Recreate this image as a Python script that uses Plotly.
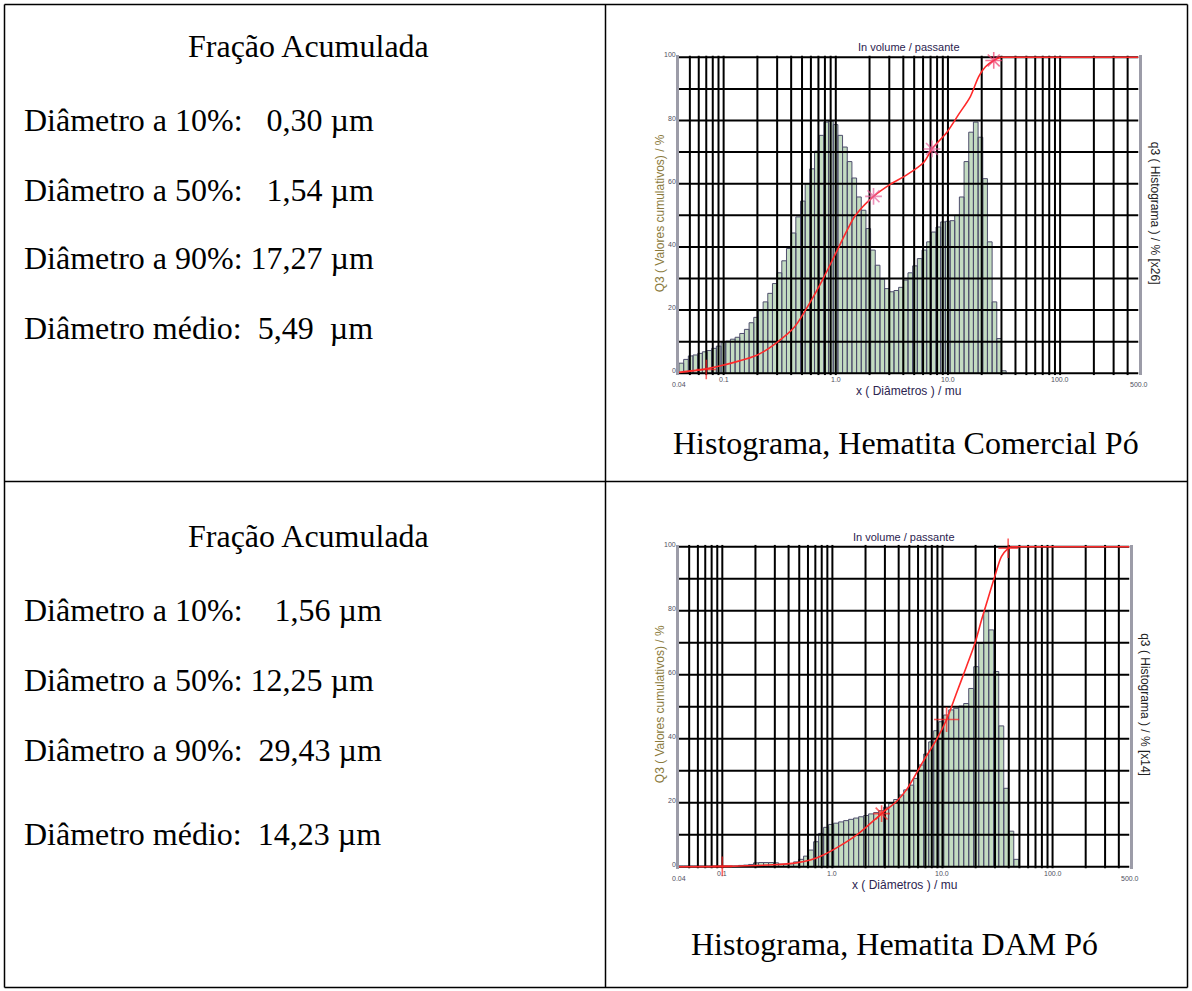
import math
import plotly.graph_objects as go

W, H = 1192, 991

# ---------------------------------------------------------------- data
# Size classes of the granulometer: log-uniform classes starting at 0.04 µm
CLASS_START = 0.04
CLASSES_PER_DECADE_1 = 24
CLASSES_PER_DECADE_2 = 22

# q3 histogram heights (drawn on the 0-100 scale of the left axis)
HIST_1 = [3.2, 4.4, 5.5, 5.8, 6.3, 6.8, 7.2, 7.9, 8.6, 9.7,
          10.2, 10.8, 11.4, 12.6, 13.9, 16.0, 17.7, 19.8, 22.6, 25.3,
          28.4, 31.8, 35.6, 39.5, 44.4, 49.5, 54.5, 60.0, 64.7, 70.3,
          75.3, 79.5, 79.8, 78.7, 75.3, 71.6, 67.0, 61.8, 55.8, 51.6,
          45.8, 39.0, 34.2, 29.8, 26.8, 25.8, 26.2, 27.2, 29.5, 31.8,
          34.0, 36.3, 39.0, 41.6, 44.7, 46.3, 47.9, 48.1, 48.3, 50.0,
          55.8, 67.0, 76.3, 79.5, 74.7, 61.6, 41.6, 22.6, 11.0, 0.8]

HIST_2 = [0.2, 0.2, 0.2, 0.2, 0.2, 0.2, 0.2, 0.2, 0.2, 0.2,
          0.2, 0.2, 0.4, 0.5, 0.7, 1.2, 1.3, 1.3, 1.3, 1.2,
          0.8, 0.8, 0.9, 1.5, 2.3, 3.3, 5.2, 7.8, 10.4, 12.3,
          13.2, 13.6, 14.0, 14.4, 14.8, 15.2, 15.6, 16.0, 16.5, 16.9,
          17.5, 18.6, 19.8, 21.0, 22.4, 24.0, 25.5, 27.6, 31.8, 35.2,
          39.0, 42.5, 45.3, 47.4, 49.0, 49.5, 50.2, 51.0, 55.7, 62.5,
          69.8, 79.7, 74.0, 61.0, 44.0, 24.5, 11.1, 2.3]

# Q3 cumulative curves (diameter µm, % passing)
CUM_D_1 = [0.04, 0.07, 0.1, 0.2, 0.3, 0.43, 0.58, 0.76, 1.0, 1.25, 1.5,
           2.17, 3.06, 4.3, 6.1, 7.2, 9.8, 12.5, 15.8, 18.8, 21.6, 25.6, 29.4]
CUM_Q_1 = [0.3, 1.4, 2.6, 5.8, 9.8, 14.7, 22.0, 29.5, 38.0, 45.0, 50.0,
           56.0, 59.8, 62.8, 66.8, 71.0, 76.3, 82.0, 87.5, 93.9, 97.0, 99.0, 100.0]
CUM_D_2 = [0.04, 0.1, 0.29, 0.47, 0.63, 0.82, 1.17, 1.75, 2.8, 3.8, 4.7,
           6.7, 8.8, 10.9, 13.4, 16.5, 19.8, 22.6, 25.0, 29.8, 34.3, 39.5, 42.0]
CUM_Q_2 = [0.0, 0.1, 0.6, 1.2, 2.1, 3.6, 6.5, 10.5, 16.6, 20.3, 24.0,
           33.0, 39.6, 46.0, 54.2, 62.5, 70.0, 77.0, 82.0, 90.6, 96.9, 99.5, 100.0]

# marked points on the cumulative curves
MARK_D_1 = [0.07, 2.17, 7.2, 25.6]
MARK_Q_1 = [1.2, 56.0, 71.0, 99.0]
MARK_D_2 = [0.1, 2.8, 10.9, 39.5]
MARK_Q_2 = [0.1, 16.6, 46.0, 99.5]

X_MIN, X_MAX = 0.04, 500.0
X_TICK_VALUES = [0.1, 1.0, 10.0, 100.0]
X_TICK_TEXT = ["0.1", "1.0", "10.0", "100.0"]
X_END_VALUES = [0.04, 500.0]
X_END_TEXT = ["0.04", "500.0"]
Y_TICK_VALUES = [0, 20, 40, 60, 80, 100]
Y_GRID_VALUES = [0, 10, 20, 30, 40, 50, 60, 70, 80, 90, 100]

TITLE = "In volume / passante"
X_TITLE = "x ( Diâmetros ) / mu"
Y_TITLE = "Q3 ( Valores cumulativos) / %"
Y2_TITLE_1 = "q3 ( Histograma ) / % [x26]"
Y2_TITLE_2 = "q3 ( Histograma ) / % [x14]"

NB = "\u00a0"
TEXT_ROW_1 = ["Diâmetro a 10%:" + NB * 3 + "0,30 µm",
              "Diâmetro a 50%:" + NB * 3 + "1,54 µm",
              "Diâmetro a 90%: 17,27 µm",
              "Diâmetro médio:" + NB * 2 + "5,49" + NB * 2 + "µm"]
TEXT_ROW_2 = ["Diâmetro a 10%:" + NB * 4 + "1,56 µm",
              "Diâmetro a 50%: 12,25 µm",
              "Diâmetro a 90%:" + NB * 2 + "29,43 µm",
              "Diâmetro médio:" + NB * 2 + "14,23 µm"]
HEADER = "Fração Acumulada"
CAPTION_1 = "Histograma, Hematita Comercial Pó"
CAPTION_2 = "Histograma, Hematita DAM Pó"

# ---------------------------------------------------------------- styles
SERIF = "Liberation Serif, Times New Roman, serif"
SANS = "Liberation Sans, Arial, sans-serif"
TEXT_SIZE = 32
BAR_FILL = "#c4dcc2"
BAR_EDGE = "#4e4e6c"
GRID = "#000000"
CURVE = "#ff2a2a"
FRAME_GRAY = "#9c9ca8"
TICK_COLOR = "#505060"
Y_PAD = 0.6


def px(x):
    return x / W


def py(y):
    return 1 - y / H


def class_edges(n, per_decade):
    return [CLASS_START * 10 ** (k / per_decade) for k in range(n + 1)]


fig = go.Figure()


def add_panel(i, box, hist, per_decade, cd, cq, md, mq, mark_symbols, mark_colors,
              mark_sizes, y2_title):
    """box = (left px, right px, top px of 100 %, bottom px of 0 %)."""
    xl, xr, yt, yb = box
    xc = (xl + xr) / 2
    ppu = (yb - yt) / 100.0
    xa = "x" if i == 1 else f"x{i}"
    ya = "y" if i == 1 else f"y{i}"
    xkey = "xaxis" if i == 1 else f"xaxis{i}"
    ykey = "yaxis" if i == 1 else f"yaxis{i}"

    # histogram bars, each a closed outline
    edges = class_edges(len(hist), per_decade)
    bx, by = [], []
    for k, h in enumerate(hist):
        lo, hi = edges[k], edges[k + 1]
        bx += [lo, lo, hi, hi, lo, None]
        by += [0, h, h, 0, 0, None]
    fig.add_trace(go.Scatter(x=bx, y=by, xaxis=xa, yaxis=ya, mode="lines",
                             fill="toself", fillcolor=BAR_FILL,
                             line=dict(color=BAR_EDGE, width=1),
                             hoverinfo="skip", showlegend=False))

    # grid over the bars
    gx, gy = [], []
    for e in range(-2, 3):
        for m in range(1, 10):
            v = m * 10 ** e
            if X_MIN * 1.001 < v < X_MAX * 0.999:
                gx += [v, v, None]
                gy += [-Y_PAD, 100 + Y_PAD, None]
    for v in Y_GRID_VALUES:
        gx += [X_MIN, X_MAX, None]
        gy += [v, v, None]
    fig.add_trace(go.Scatter(x=gx, y=gy, xaxis=xa, yaxis=ya, mode="lines",
                             line=dict(color=GRID, width=2),
                             hoverinfo="skip", showlegend=False))

    # cumulative curve and its plateau
    fig.add_trace(go.Scatter(x=cd, y=cq, xaxis=xa, yaxis=ya, mode="lines",
                             line=dict(color=CURVE, width=1.6, shape="spline",
                                       smoothing=0.8),
                             hoverinfo="skip", showlegend=False))
    fig.add_trace(go.Scatter(x=[cd[-1], X_MAX], y=[100, 100], xaxis=xa, yaxis=ya,
                             mode="lines", line=dict(color=CURVE, width=1.6),
                             hoverinfo="skip", showlegend=False))
    fig.add_trace(go.Scatter(x=md, y=mq, xaxis=xa, yaxis=ya, mode="markers",
                             marker=dict(symbol=mark_symbols, size=mark_sizes,
                                         color=mark_colors,
                                         line=dict(color=mark_colors, width=1.6)),
                             cliponaxis=False, hoverinfo="skip", showlegend=False))

    pad = Y_PAD * ppu
    fig.layout[xkey] = dict(type="log", range=[math.log10(X_MIN), math.log10(X_MAX)],
                            domain=[px(xl), px(xr)], anchor=ya,
                            showgrid=False, zeroline=False, showticklabels=False,
                            ticks="", showline=False)
    fig.layout[ykey] = dict(range=[-Y_PAD, 100 + Y_PAD],
                            domain=[py(yb + pad), py(yt - pad)], anchor=xa,
                            showgrid=False, zeroline=False, showticklabels=False,
                            ticks="", showline=True, mirror=True,
                            linecolor=FRAME_GRAY, linewidth=3)

    ann = []
    for v, t in zip(X_TICK_VALUES, X_TICK_TEXT):
        ann.append(dict(x=math.log10(v), y=0, xref=xa, yref=ya, text=t,
                        showarrow=False, xanchor="center", yanchor="top", yshift=-1,
                        font=dict(family=SANS, size=7, color=TICK_COLOR)))
    for v, t in zip(X_END_VALUES, X_END_TEXT):
        ann.append(dict(x=math.log10(v), y=0, xref=xa, yref=ya, text=t,
                        showarrow=False, xanchor="center", yanchor="top", yshift=-6,
                        font=dict(family=SANS, size=7, color=TICK_COLOR)))
    for v in Y_TICK_VALUES:
        ann.append(dict(x=px(xl - 1), y=v, xref="paper", yref=ya, text=str(v),
                        showarrow=False, xanchor="right", yanchor="bottom",
                        yshift=-3,
                        font=dict(family=SANS, size=7, color=TICK_COLOR)))
    ann.append(dict(x=px(xc), y=py(yt - 10), xref="paper", yref="paper",
                    text=TITLE, showarrow=False, xanchor="center", yanchor="middle",
                    font=dict(family=SANS, size=11, color="#2c2450")))
    ann.append(dict(x=px(xc), y=py(yb + 18), xref="paper",
                    yref="paper", text=X_TITLE, showarrow=False, xanchor="center",
                    yanchor="middle",
                    font=dict(family=SANS, size=12, color="#2c2450")))
    ann.append(dict(x=px(xl - 19), y=py((yt + yb) / 2 - 2), xref="paper",
                    yref="paper", text=Y_TITLE, showarrow=False, textangle=-90,
                    xanchor="center", yanchor="middle",
                    font=dict(family=SANS, size=12, color="#8a7a3c")))
    ann.append(dict(x=px(xr + 16), y=py((yt + yb) / 2 - 2), xref="paper",
                    yref="paper", text=y2_title, showarrow=False, textangle=90,
                    xanchor="center", yanchor="middle",
                    font=dict(family=SANS, size=12, color="#222222")))
    return ann


annotations = []
annotations += add_panel(1, (679, 1138.5, 57.3, 373.3), HIST_1, CLASSES_PER_DECADE_1,
                         CUM_D_1, CUM_Q_1, MARK_D_1, MARK_Q_1,
                         ["cross-thin-open", "asterisk-open", "asterisk-open",
                          "asterisk-open"],
                         ["#ff2020", "#e6609a", "#e6609a", "#f03a6a"],
                         [14, 14, 14, 14], Y2_TITLE_1)
annotations += add_panel(2, (678.5, 1129.5, 546.7, 866.7), HIST_2, CLASSES_PER_DECADE_2,
                         CUM_D_2, CUM_Q_2, MARK_D_2, MARK_Q_2,
                         ["cross-thin-open", "asterisk-open", "cross-thin-open",
                          "cross-thin-open"],
                         ["#ff2020"] * 4, [14, 14, 18, 14], Y2_TITLE_2)


# left column text
def text_block(header_y, lines_y, lines):
    out = [dict(x=px(308), y=py(header_y), xref="paper", yref="paper", text=HEADER,
                showarrow=False, xanchor="center", yanchor="middle",
                font=dict(family=SERIF, size=TEXT_SIZE, color="#000000"))]
    for yy, t in zip(lines_y, lines):
        out.append(dict(x=px(22), y=py(yy), xref="paper", yref="paper", text=t,
                        showarrow=False, xanchor="left", yanchor="middle",
                        font=dict(family=SERIF, size=TEXT_SIZE, color="#000000")))
    return out


annotations += text_block(46, [120, 190, 258, 328], TEXT_ROW_1)
annotations += text_block(536, [610, 680, 750, 834], TEXT_ROW_2)
annotations.append(dict(x=px(906), y=py(443), xref="paper", yref="paper", text=CAPTION_1,
                        showarrow=False, xanchor="center", yanchor="middle",
                        font=dict(family=SERIF, size=TEXT_SIZE, color="#000000")))
annotations.append(dict(x=px(894), y=py(944), xref="paper", yref="paper", text=CAPTION_2,
                        showarrow=False, xanchor="center", yanchor="middle",
                        font=dict(family=SERIF, size=TEXT_SIZE, color="#000000")))

# table rules
L, R, T, B, MX, MY = 4.5, 1187.5, 4.5, 987.5, 605.5, 481.5
rules = [(L, T, R, T), (L, MY, R, MY), (L, B, R, B),
         (L, T, L, B), (MX, T, MX, B), (R, T, R, B)]
shapes = [dict(type="line", xref="paper", yref="paper", x0=px(a), y0=py(b),
               x1=px(c), y1=py(d), line=dict(color="#000000", width=1.5))
          for a, b, c, d in rules]

fig.update_layout(width=W, height=H, margin=dict(l=0, r=0, t=0, b=0),
                  paper_bgcolor="white", plot_bgcolor="white",
                  annotations=annotations, shapes=shapes, showlegend=False)

fig.write_html("out.html")
